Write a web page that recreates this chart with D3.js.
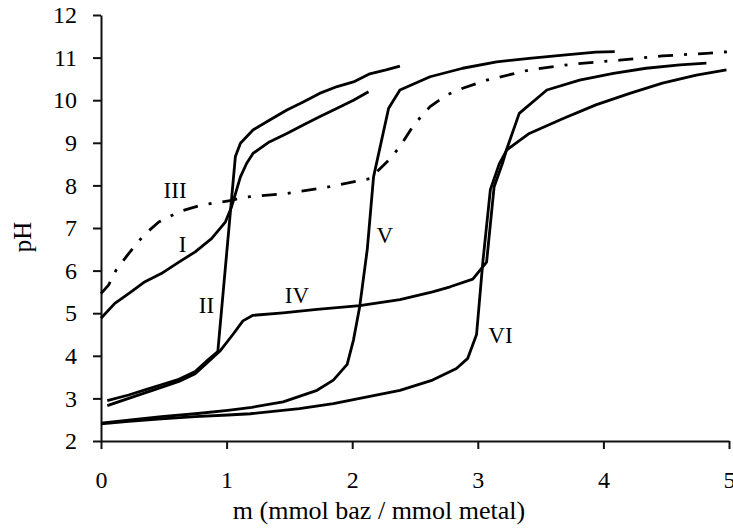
<!DOCTYPE html>
<html>
<head>
<meta charset="utf-8">
<script src="https://cdn.jsdelivr.net/npm/d3@7"></script>
<style>
  html, body { margin: 0; padding: 0; background: #fff; }
  svg { display: block; }
  text { font-family: "Liberation Serif", "Times New Roman", serif; fill: #000; }
</style>
</head>
<body>
<script>
// Titration curves: pH against m (mmol base / mmol metal)
const xTicks = [0, 1, 2, 3, 4, 5];
const yTicks = [2, 3, 4, 5, 6, 7, 8, 9, 10, 11, 12];

const curveI = [[0,4.88],[0.11,5.23],[0.22,5.46],[0.35,5.74],[0.48,5.93],[0.62,6.2],[0.75,6.44],[0.88,6.75],[0.99,7.14],[1.04,7.5],[1.08,7.9],[1.11,8.2],[1.16,8.52],[1.21,8.75],[1.34,9.02],[1.48,9.22],[1.61,9.42],[1.74,9.61],[1.88,9.81],[2.01,10.0],[2.13,10.2]];

const curveII = [[0.05,2.95],[0.22,3.08],[0.35,3.2],[0.48,3.32],[0.62,3.45],[0.75,3.63],[0.85,3.9],[0.93,4.1],[1.07,8.68],[1.11,8.99],[1.21,9.3],[1.34,9.53],[1.48,9.77],[1.61,9.96],[1.74,10.16],[1.88,10.32],[2.01,10.43],[2.14,10.62],[2.27,10.71],[2.38,10.8]];

const curveIII = [[0,5.46],[0.06,5.66],[0.12,6.01],[0.22,6.4],[0.34,6.83],[0.46,7.14],[0.62,7.38],[0.8,7.54],[0.96,7.61],[1.04,7.65],[1.13,7.72],[1.48,7.81],[1.82,7.97],[2.14,8.16],[2.29,8.59],[2.38,8.91],[2.49,9.42],[2.62,9.85],[2.75,10.12],[2.88,10.28],[3.07,10.47],[3.41,10.71],[3.76,10.85],[4.13,10.94],[4.47,11.04],[4.82,11.1],[5.0,11.14]];

const curveIV = [[0.05,2.83],[0.22,3.0],[0.35,3.13],[0.48,3.26],[0.62,3.4],[0.75,3.58],[0.85,3.85],[0.95,4.12],[1.05,4.5],[1.13,4.82],[1.21,4.95],[1.45,5.01],[1.72,5.09],[2.06,5.18],[2.38,5.32],[2.64,5.5],[2.78,5.62],[2.96,5.8],[3.07,6.2],[3.13,7.97],[3.2,8.55],[3.23,8.85],[3.33,9.69],[3.55,10.24],[3.81,10.47],[4.08,10.63],[4.34,10.75],[4.61,10.83],[4.82,10.87]];

const curveV = [[0,2.42],[0.22,2.49],[0.48,2.57],[0.75,2.64],[1.01,2.72],[1.2,2.79],[1.45,2.92],[1.72,3.19],[1.85,3.43],[1.96,3.8],[2.01,4.37],[2.06,5.16],[2.12,6.5],[2.17,8.2],[2.29,9.81],[2.38,10.24],[2.62,10.55],[2.88,10.75],[3.15,10.9],[3.41,10.98],[3.68,11.06],[3.94,11.13],[4.09,11.14]];

const curveVI = [[0,2.4],[0.22,2.46],[0.48,2.52],[0.75,2.57],[1.01,2.61],[1.19,2.64],[1.58,2.76],[1.85,2.88],[2.11,3.03],[2.38,3.19],[2.64,3.43],[2.83,3.7],[2.92,3.94],[2.99,4.5],[3.04,6.2],[3.1,7.9],[3.17,8.5],[3.23,8.83],[3.41,9.22],[3.68,9.57],[3.94,9.89],[4.21,10.16],[4.47,10.4],[4.74,10.59],[4.98,10.71]];

const curveNames = ["I", "II", "III", "IV", "V", "VI"];
const curveData = [curveI, curveII, curveIII, curveIV, curveV, curveVI];
const dashed = [false, false, true, false, false, false];

// label anchor positions in data units (x centre, y baseline)
const labelX = [0.65, 0.84, 0.59, 1.56, 2.26, 3.18];
const labelY = [6.43, 5.0, 7.7, 5.235, 6.64, 4.295];

const W = 733, H = 529;
const margin = { top: 15, right: 4, bottom: 88, left: 101 };

const svg = d3.select("body").append("svg")
  .attr("width", W).attr("height", H);

const x = d3.scaleLinear().domain([0, 5]).range([margin.left, W - margin.right]);
const y = d3.scaleLinear().domain([2, 12]).range([H - margin.bottom, margin.top]);

// axes
const xAxis = d3.axisBottom(x).tickValues(xTicks).tickSize(8).tickSizeOuter(0).tickPadding(22).tickFormat(d3.format("d"));
const yAxis = d3.axisLeft(y).tickValues(yTicks).tickSize(8).tickSizeOuter(0).tickPadding(16).tickFormat(d3.format("d"));

const gx = svg.append("g").attr("transform", `translate(0,${y(2)})`).call(xAxis);
const gy = svg.append("g").attr("transform", `translate(${x(0)},0)`).call(yAxis);

[gx, gy].forEach(g => {
  g.select(".domain").attr("stroke", "#111").attr("stroke-width", 2);
  g.selectAll(".tick line").attr("stroke", "#111").attr("stroke-width", 2);
  g.selectAll(".tick text").attr("font-size", 24).attr("font-family", "Liberation Serif").attr("fill", "#000");
});

// axis titles
svg.append("text")
  .attr("x", 379).attr("y", 519)
  .attr("text-anchor", "middle")
  .attr("font-size", 26)
  .text("m (mmol baz / mmol metal)");

svg.append("text")
  .attr("transform", `translate(31,237) rotate(-90)`)
  .attr("text-anchor", "middle")
  .attr("font-size", 25)
  .text("pH");

// curves
const line = d3.line().x(d => x(d[0])).y(d => y(d[1]));

svg.append("g").selectAll("path")
  .data(curveData)
  .join("path")
  .attr("d", line)
  .attr("fill", "none")
  .attr("stroke", "#000")
  .attr("stroke-width", 2.8)
  .attr("stroke-linejoin", "round")
  .attr("stroke-linecap", "butt")
  .attr("stroke-dasharray", (d, i) => dashed[i] ? "15,11,3,11" : null);

// curve labels
svg.append("g").selectAll("text")
  .data(curveNames)
  .join("text")
  .attr("x", (d, i) => x(labelX[i]))
  .attr("y", (d, i) => y(labelY[i]))
  .attr("text-anchor", "middle")
  .attr("font-size", 23)
  .text(d => d);
</script>
</body>
</html>
